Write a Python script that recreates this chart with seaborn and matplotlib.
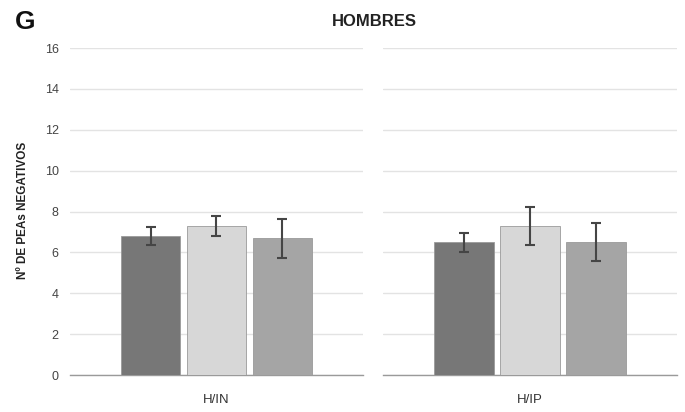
import matplotlib
matplotlib.use("Agg")
import matplotlib.pyplot as plt
import seaborn as sns
import pandas as pd

# Mean number of negative PEAs per group and condition, with error bars
groups = ["H/IN", "H/IP"]
conditions = ["C1", "C2", "C3"]
means_hin = [6.8, 7.3, 6.7]
errs_hin = [0.45, 0.5, 0.95]
means_hip = [6.5, 7.3, 6.5]
errs_hip = [0.47, 0.93, 0.93]
yticks = [0, 2, 4, 6, 8, 10, 12, 14, 16]

colors = ["#777777", "#d7d7d7", "#a5a5a5"]

sns.set_theme(style="white")
plt.rcParams["font.family"] = ["Liberation Sans", "DejaVu Sans"]

fig = plt.figure(figsize=(6.85, 4.12), dpi=100)
ax_left = fig.add_axes([0.102, 0.0898, 0.428, 0.7936])
ax_right = fig.add_axes([0.559, 0.0898, 0.429, 0.7936])

panels = [
    (ax_left, groups[0], means_hin, errs_hin),
    (ax_right, groups[1], means_hip, errs_hip),
]

for ax, grp, means, errs in panels:
    df = pd.DataFrame({"grupo": [grp] * 3, "condicion": conditions,
                       "media": means, "error": errs})
    sns.barplot(data=df, x="grupo", y="media", hue="condicion",
                palette=colors, errorbar=None, gap=0.1, legend=False,
                edgecolor="#9a9a9a", linewidth=0.6, ax=ax, zorder=3)
    bars = [p for p in ax.patches][:3]
    xs = [b.get_x() + b.get_width() / 2 for b in bars]
    ax.errorbar(xs, means, yerr=errs, fmt="none", ecolor="#454545",
                elinewidth=1.5, capsize=3.5, capthick=1.5, zorder=4)
    ax.set_ylim(0, 16)
    ax.set_xlim(-0.593, 0.593)
    ax.set_yticks(yticks)
    ax.yaxis.grid(True, color="#e3e3e3", linewidth=1.0, zorder=0)
    ax.set_axisbelow(True)
    for s in ["top", "right", "left"]:
        ax.spines[s].set_visible(False)
    ax.spines["bottom"].set_color("#9a9a9a")
    ax.spines["bottom"].set_linewidth(1.0)
    ax.set_xlabel("")
    ax.set_ylabel("")
    ax.tick_params(axis="x", length=0, pad=14, labelsize=9.5, labelcolor="#333333")
    ax.tick_params(axis="y", length=0, pad=8, labelsize=9, labelcolor="#444444")

ax_right.set_yticklabels([])

ax_left.set_ylabel("Nº DE PEAs NEGATIVOS", fontsize=8.5, fontweight="bold",
                   color="#222222")
ax_left.yaxis.set_label_coords(-0.14, 0.505)

fig.text(0.546, 0.949, "HOMBRES", ha="center", va="center", fontsize=12,
         fontweight="bold", color="#222222")
fig.text(0.036, 0.947, "G", ha="center", va="center", fontsize=19,
         fontweight="bold", color="#111111")

fig.savefig("out.png", dpi=100)
